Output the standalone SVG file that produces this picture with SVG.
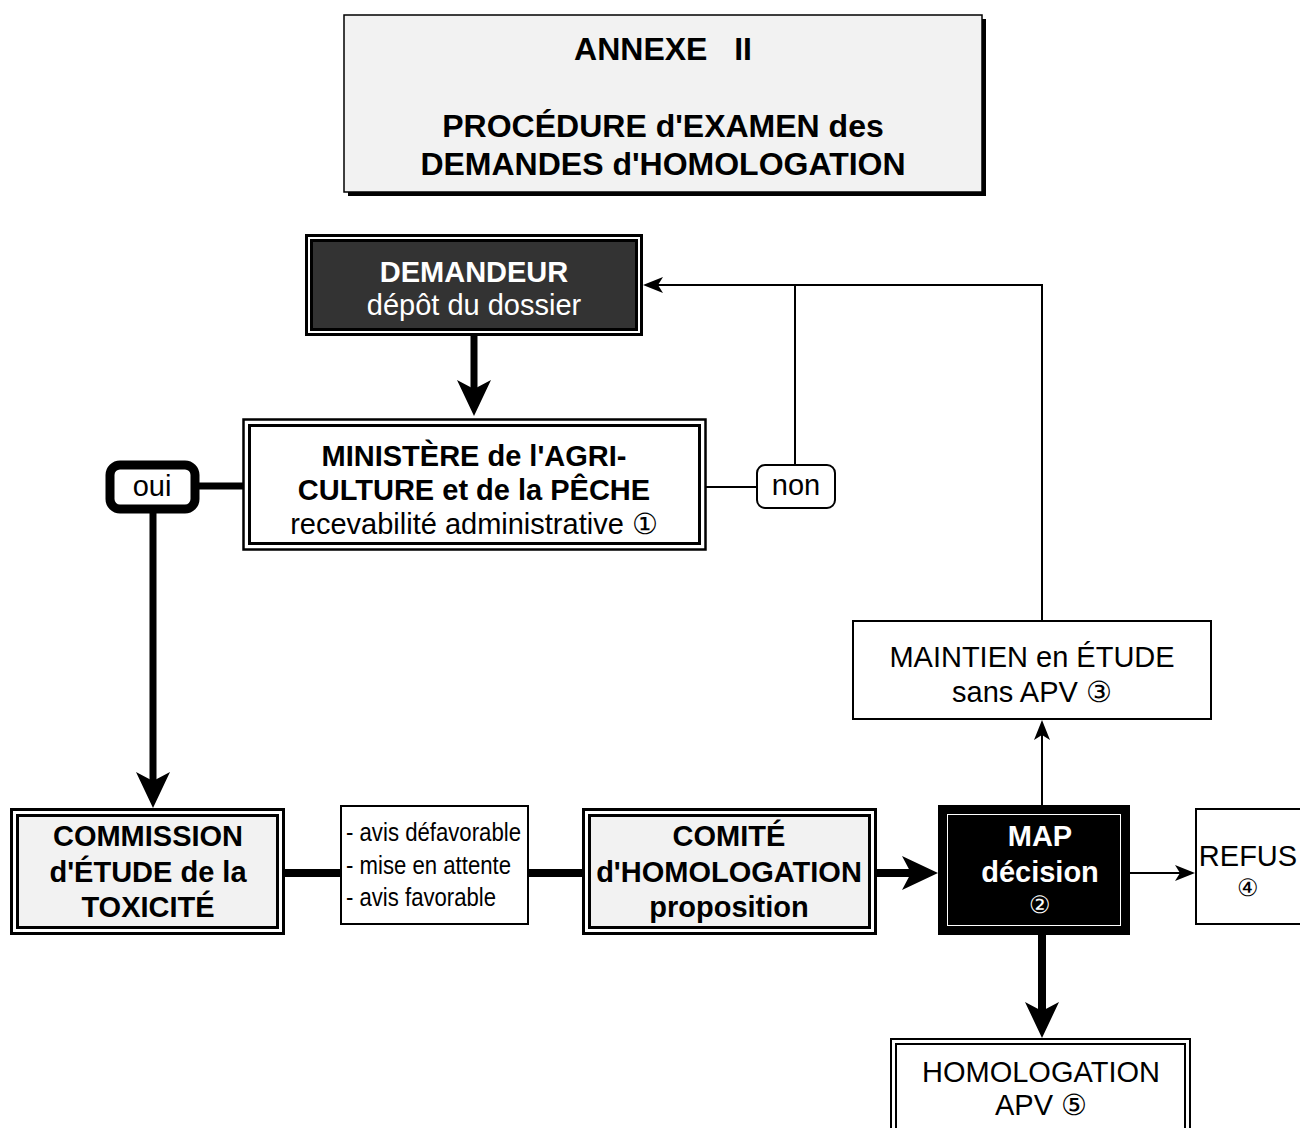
<svg xmlns="http://www.w3.org/2000/svg" width="1300" height="1128" viewBox="0 0 1300 1128">
<style>
text{font-family:"Liberation Sans",Arial,sans-serif;text-anchor:middle;font-size:29px}
.b{font-weight:bold}
.w{fill:#fff}
.t{font-size:32px;font-weight:bold;white-space:pre}
.sm{font-size:25px;text-anchor:start}
.thick{stroke:#000;stroke-width:7;fill:none}
.thin{stroke:#000;stroke-width:2;fill:none}
.o{fill:none;stroke:#000;stroke-width:3}
</style>
<defs>
<marker id="big" markerUnits="userSpaceOnUse" markerWidth="36" markerHeight="34" refX="9" refY="17" orient="auto" overflow="visible">
<path d="M0,0 L36,17 L0,34 L9,17 z" fill="#000"/>
</marker>
<marker id="small" markerUnits="userSpaceOnUse" markerWidth="20" markerHeight="16" refX="5" refY="8" orient="auto" overflow="visible">
<path d="M0,0 L20,8 L0,16 L5,8 z" fill="#000"/>
</marker>
</defs>

<g id="title">
<rect x="348" y="19" width="638" height="177" fill="#000"/>
<rect x="344" y="15" width="638" height="177" fill="#f2f2f2" stroke="#000" stroke-width="1.5"/>
<text class="t" x="663" y="60" xml:space="preserve">ANNEXE   II</text>
<text class="t" x="663" y="137">PROCÉDURE d'EXAMEN des</text>
<text class="t" x="663" y="175">DEMANDES d'HOMOLOGATION</text>
</g>

<g id="connectors">
<line class="thick" x1="474" y1="336" x2="474" y2="389" marker-end="url(#big)"/>
<line class="thick" x1="196" y1="486" x2="243" y2="486"/>
<line class="thick" x1="153" y1="510" x2="153" y2="781" marker-end="url(#big)"/>
<line class="thin" x1="706" y1="487" x2="757" y2="487"/>
<line class="thin" x1="795" y1="465" x2="795" y2="285"/>
<polyline class="thin" points="1042,620 1042,285 658,285" marker-end="url(#small)"/>
<line class="thin" x1="1042" y1="805" x2="1042" y2="735" marker-end="url(#small)"/>
<line class="thick" x1="284" y1="873" x2="340" y2="873" style="stroke-width:8"/>
<line class="thick" x1="528" y1="873" x2="583" y2="873" style="stroke-width:8"/>
<line class="thick" x1="876" y1="873" x2="911" y2="873" style="stroke-width:8" marker-end="url(#big)"/>
<line class="thin" x1="1130" y1="873" x2="1180" y2="873" marker-end="url(#small)"/>
<line class="thick" x1="1042" y1="935" x2="1042" y2="1011" style="stroke-width:8" marker-end="url(#big)"/>
</g>

<g id="demandeur">
<rect class="o" x="306.5" y="235.5" width="335" height="99"/>
<rect x="311.5" y="240.5" width="325" height="89" fill="#333" stroke="#000" stroke-width="3"/>
<text class="b w" x="474" y="282">DEMANDEUR</text>
<text class="w" x="474" y="315">dépôt du dossier</text>
</g>

<g id="ministere">
<rect x="243.5" y="419.5" width="462" height="130" fill="#fff" stroke="#000" stroke-width="2.5"/>
<rect x="249.5" y="425.5" width="450" height="118" fill="none" stroke="#000" stroke-width="3"/>
<text class="b" x="474" y="466">MINISTÈRE de l'AGRI-</text>
<text class="b" x="474" y="500">CULTURE et de la PÊCHE</text>
<text x="474" y="534">recevabilité administrative ①</text>
</g>

<g id="oui">
<rect x="110" y="465" width="85" height="44" rx="10" fill="#fff" stroke="#000" stroke-width="9"/>
<text x="152" y="496">oui</text>
</g>

<g id="non">
<rect x="757" y="465" width="78" height="43" rx="8" fill="#fff" stroke="#000" stroke-width="2"/>
<text x="796" y="495">non</text>
</g>

<g id="maintien">
<rect x="853" y="621" width="358" height="98" fill="#fff" stroke="#000" stroke-width="2"/>
<text x="1032" y="667">MAINTIEN en ÉTUDE</text>
<text x="1032" y="702">sans APV ③</text>
</g>

<g id="commission">
<rect x="11.5" y="809.5" width="272" height="124" fill="#fff" stroke="#000" stroke-width="3"/>
<rect x="17.5" y="815.5" width="260" height="112" fill="#f2f2f2" stroke="#000" stroke-width="3"/>
<text class="b" x="148" y="846">COMMISSION</text>
<text class="b" x="148" y="882">d'ÉTUDE de la</text>
<text class="b" x="148" y="917">TOXICITÉ</text>
</g>

<g id="avis">
<rect x="341" y="806" width="187" height="118" fill="#fff" stroke="#000" stroke-width="2"/>
<text class="sm" x="346" y="841" textLength="175" lengthAdjust="spacingAndGlyphs">- avis défavorable</text>
<text class="sm" x="346" y="874" textLength="165" lengthAdjust="spacingAndGlyphs">- mise en attente</text>
<text class="sm" x="346" y="906" textLength="150" lengthAdjust="spacingAndGlyphs">- avis favorable</text>
</g>

<g id="comite">
<rect x="583.5" y="809.5" width="292" height="124" fill="#fff" stroke="#000" stroke-width="3"/>
<rect x="589.5" y="815.5" width="280" height="112" fill="#f2f2f2" stroke="#000" stroke-width="3"/>
<text class="b" x="729" y="846">COMITÉ</text>
<text class="b" x="729" y="882">d'HOMOLOGATION</text>
<text class="b" x="729" y="917">proposition</text>
</g>

<g id="map">
<rect x="938" y="805" width="192" height="130" fill="#000"/>
<rect x="947.5" y="814.5" width="173" height="111" fill="none" stroke="#fff" stroke-width="1"/>
<text class="b w" x="1040" y="846">MAP</text>
<text class="b w" x="1040" y="882">décision</text>
<text class="w" x="1040" y="913" style="font-size:24px">②</text>
</g>

<g id="refus">
<rect x="1196" y="809" width="110" height="115" fill="#fff" stroke="#000" stroke-width="2"/>
<text x="1248" y="866">REFUS</text>
<text x="1248" y="896" style="font-size:24px">④</text>
</g>

<g id="homologation">
<rect x="891" y="1039" width="299" height="100" fill="#fff" stroke="#000" stroke-width="2"/>
<rect x="896" y="1044" width="289" height="100" fill="none" stroke="#000" stroke-width="2"/>
<text x="1041" y="1082">HOMOLOGATION</text>
<text x="1041" y="1115">APV ⑤</text>
</g>
</svg>
